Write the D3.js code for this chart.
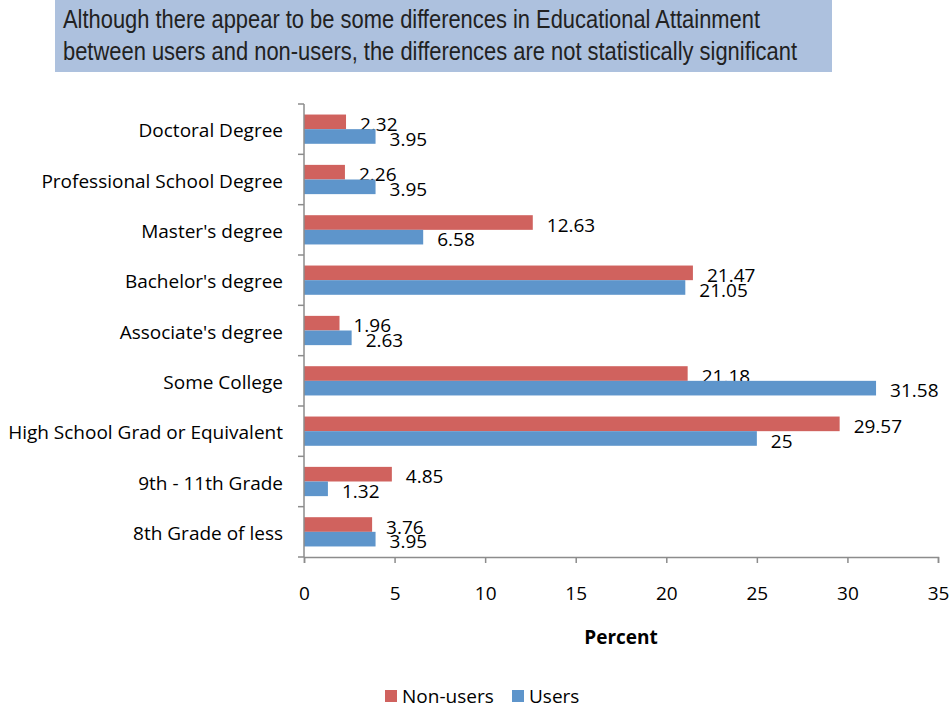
<html>
<meta charset="utf-8">
<script src="https://d3js.org/d3.v7.min.js"></script>
<style>
  body { margin: 0; background: #fff; }
  text { font-family: "Open Sans", sans-serif; fill: #000; }
</style>
<body>
<div id="chart"></div>
<script>
var categories = ["Doctoral Degree", "Professional School Degree", "Master's degree",
  "Bachelor's degree", "Associate's degree", "Some College",
  "High School Grad or Equivalent", "9th - 11th Grade", "8th Grade of less"];
var nonUsers = [2.32, 2.26, 12.63, 21.47, 1.96, 21.18, 29.57, 4.85, 3.76];
var users = [3.95, 3.95, 6.58, 21.05, 2.63, 31.58, 25, 1.32, 3.95];
var xTicks = [0, 5, 10, 15, 20, 25, 30, 35];
var titleLines = ["Although there appear to be some differences in Educational Attainment",
  "between users and non-users, the differences are not statistically significant"];

var WIDTH = 950, HEIGHT = 708;
var RED = "#d0625e", BLUE = "#5e95cb";
var FS = "19px";

var svg = d3.select("#chart").append("svg")
  .attr("width", WIDTH).attr("height", HEIGHT);

// title box
svg.append("rect").attr("x", 55).attr("y", 0).attr("width", 777).attr("height", 72)
  .attr("fill", "#adc1de");
var titleWidths = [697, 734];
svg.selectAll(".title").data(titleLines).enter().append("text")
  .attr("x", 63).attr("y", function (d, i) { return 28 + i * 32; })
  .attr("textLength", function (d, i) { return titleWidths[i]; })
  .attr("lengthAdjust", "spacingAndGlyphs")
  .style("font-family", "'Liberation Sans', Arial, sans-serif")
  .style("font-size", "26px").style("fill", "#222")
  .text(function (d) { return d; });

var x = d3.scaleLinear().domain([0, 35]).range([304, 938]);
var y = d3.scaleBand().domain(categories).range([104, 557]);
var inner = d3.scaleBand().domain(["non", "users"]).range([0, y.bandwidth()]).paddingOuter(0.72);

var rows = categories.map(function (c, i) { return { cat: c, non: nonUsers[i], users: users[i] }; });

var g = svg.selectAll(".row").data(rows).enter().append("g")
  .attr("transform", function (d) { return "translate(0," + y(d.cat) + ")"; });

[["non", RED], ["users", BLUE]].forEach(function (s) {
  g.append("rect")
    .attr("x", x(0)).attr("y", inner(s[0]))
    .attr("width", function (d) { return x(d[s[0]]) - x(0); })
    .attr("height", inner.bandwidth())
    .attr("fill", s[1]);
  g.append("text")
    .attr("x", function (d) { return x(d[s[0]]) + 14; })
    .attr("y", inner(s[0]) + inner.bandwidth() + 2)
    .style("font-size", FS)
    .text(function (d) { return d[s[0]]; });
});

// y axis
var yAxis = svg.append("g").attr("transform", "translate(" + x(0) + ",0)");
yAxis.append("line").attr("y1", 104).attr("y2", 557).attr("stroke", "#8c8c8c").attr("stroke-width", 1.5);
yAxis.selectAll(".yt").data(d3.range(categories.length + 1)).enter().append("line")
  .attr("x1", -6).attr("x2", 0)
  .attr("y1", function (i) { return 104 + i * y.step(); })
  .attr("y2", function (i) { return 104 + i * y.step(); })
  .attr("stroke", "#8c8c8c").attr("stroke-width", 1.5);
yAxis.selectAll(".yl").data(categories).enter().append("text")
  .attr("x", -21).attr("y", function (d) { return y(d) + y.bandwidth() / 2 + 8; })
  .attr("text-anchor", "end")
  .style("font-size", FS)
  .text(function (d) { return d; });

// x axis
var xAxis = d3.axisBottom(x).tickValues(xTicks).tickSize(6).tickPadding(24);
var xg = svg.append("g").attr("transform", "translate(0,557)").call(xAxis);
xg.select(".domain").attr("stroke", "#8c8c8c").attr("stroke-width", 1.5);
xg.selectAll(".tick line").attr("stroke", "#8c8c8c").attr("stroke-width", 1.5);
xg.selectAll(".tick text").style("font-size", FS).style("font-family", "'Open Sans', sans-serif").attr("fill", "#000");

svg.append("text").attr("x", 621).attr("y", 644).attr("text-anchor", "middle")
  .style("font-size", FS).style("font-weight", "bold").text("Percent");

// legend
var legend = [["Non-users", RED, 385], ["Users", BLUE, 512]];
legend.forEach(function (l) {
  svg.append("rect").attr("x", l[2]).attr("y", 690).attr("width", 12).attr("height", 12).attr("fill", l[1]);
  svg.append("text").attr("x", l[2] + 17).attr("y", 703).style("font-size", FS).text(l[0]);
});
</script>
</body>
</html>
